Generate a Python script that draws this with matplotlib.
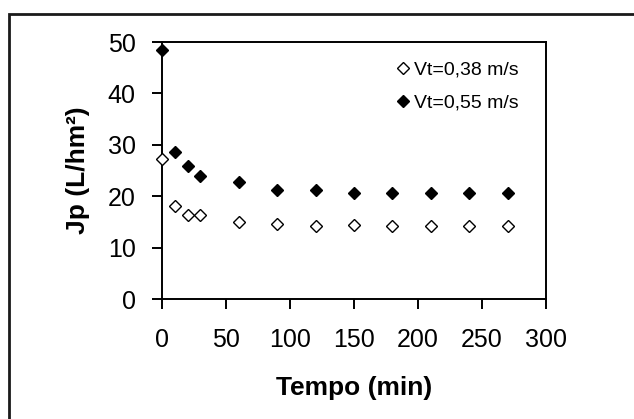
import matplotlib
matplotlib.use("Agg")
import matplotlib.pyplot as plt
from matplotlib.patches import Rectangle

# time (min) and permeate flux Jp (L/hm2)
tempo = [0, 10, 20, 30, 60, 90, 120, 150, 180, 210, 240, 270]
jp_038 = [27.3, 18.0, 16.4, 16.4, 14.9, 14.6, 14.2, 14.3, 14.2, 14.2, 14.2, 14.2]
jp_055 = [48.5, 28.6, 25.9, 24.0, 22.8, 21.2, 21.2, 20.6, 20.6, 20.6, 20.6, 20.6]

labels = ["Vt=0,38 m/s", "Vt=0,55 m/s"]
xticks = [0, 50, 100, 150, 200, 250, 300]
yticks = [0, 10, 20, 30, 40, 50]

plt.rcParams["font.family"] = ["Liberation Sans", "DejaVu Sans"]

W, H = 634, 419
fig = plt.figure(figsize=(W / 100, H / 100), dpi=100)
fig.patch.set_facecolor("white")

# outer chart frame (only left and top edges fall inside the picture)
fig.patches.append(Rectangle((9 / W, -0.2), 1.2, 1.2 - 13.7 / H,
                             transform=fig.transFigure, fill=False,
                             edgecolor="#1a1a1a", linewidth=2.0))

ax = fig.add_axes([162 / W, 1 - 299 / H, (546 - 162) / W, (299 - 42) / H])

ax.plot(tempo, jp_038, linestyle="none", marker="D", markersize=6,
        markerfacecolor="white", markeredgecolor="black", markeredgewidth=1.0,
        clip_on=False, label=labels[0], zorder=3)
ax.plot(tempo, jp_055, linestyle="none", marker="D", markersize=6,
        markerfacecolor="black", markeredgecolor="black", markeredgewidth=1.0,
        clip_on=False, label=labels[1], zorder=3)

ax.set_xlim(0, 300)
ax.set_ylim(0, 50)
ax.set_xticks(xticks)
ax.set_yticks(yticks)

for s in ax.spines.values():
    s.set_linewidth(1.4)
    s.set_color("black")

ax.tick_params(axis="both", direction="out", length=7, width=1.4,
               labelsize=18, color="black")
ax.tick_params(axis="y", pad=12)
ax.tick_params(axis="x", pad=14)

ax.set_xlabel("Tempo (min)", fontsize=19, fontweight="bold")
ax.set_ylabel("Jp (L/hm²)", fontsize=19, fontweight="bold")
ax.xaxis.set_label_coords(0.5, (299 - 376) / (299 - 42), transform=ax.transAxes)
ax.yaxis.set_label_coords((90 - 162) / (546 - 162), 0.5, transform=ax.transAxes)

ax.legend(loc="upper left", bbox_to_anchor=(393 / W, 1 - 61 / H),
          bbox_transform=fig.transFigure, frameon=False, fontsize=14,
          handletextpad=0.1, handlelength=1.0, labelspacing=0.8,
          borderpad=0, borderaxespad=0)

fig.savefig("out.png", dpi=100)
